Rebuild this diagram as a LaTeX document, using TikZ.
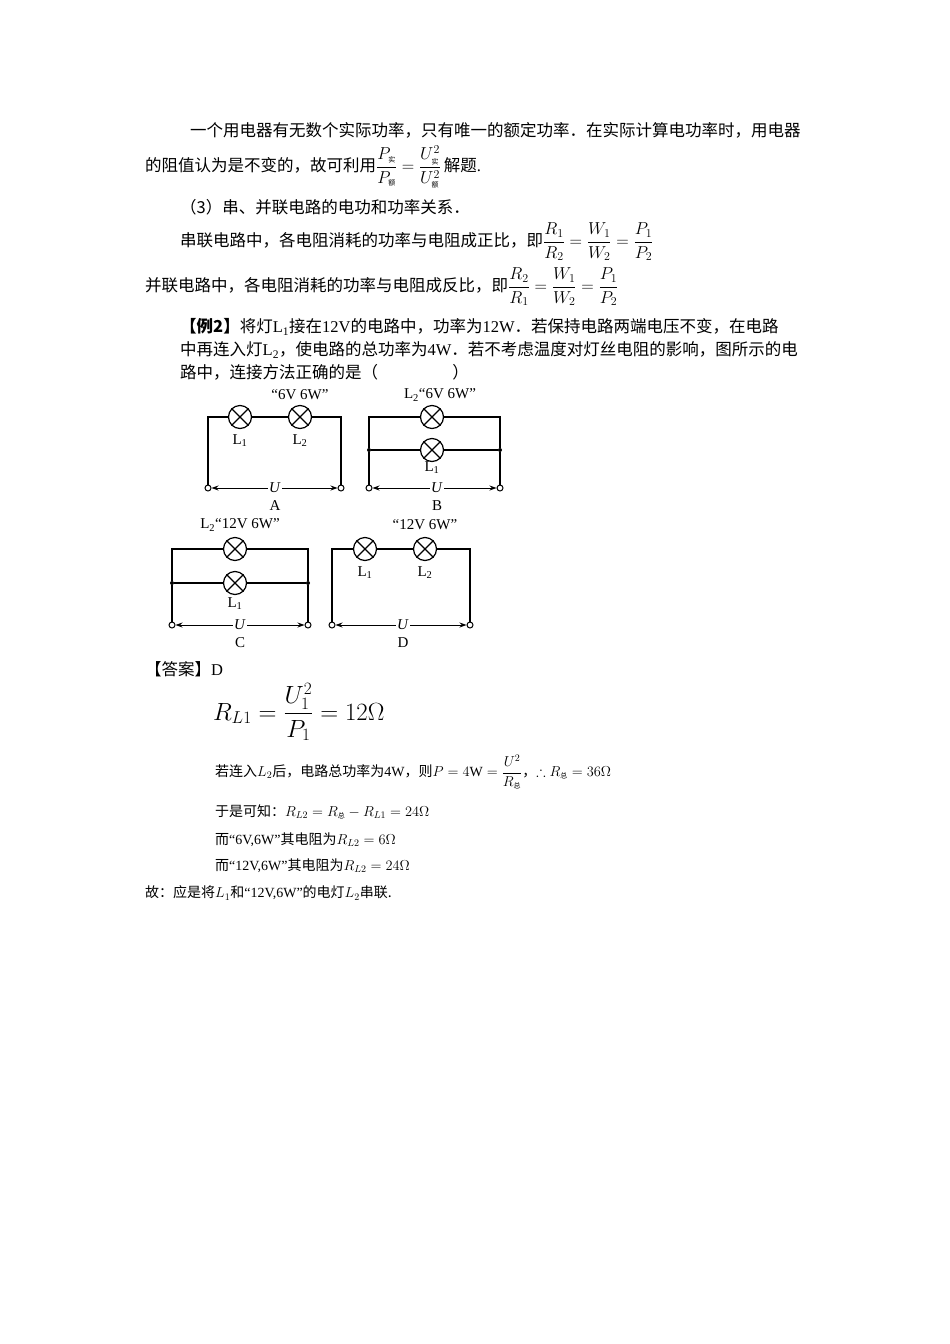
\documentclass[tikz,border=0pt]{standalone}
\usepackage{amsmath,amssymb}
\usepackage{fontspec}
\setmainfont{Liberation Serif}
\newfontfamily\cjk{Noto Sans CJK SC}
\newcommand\zh[1]{{\cjk #1}}
\newcommand\sz[1]{\mbox{\fontsize{7}{8}\selectfont\cjk #1}}
\usetikzlibrary{arrows.meta}
\tikzset{
 lamp/.style={circle,draw,minimum size=23pt,inner sep=0pt,line width=1.2pt},
 wire/.style={line width=1.1pt},
 term/.style={circle,draw,fill=white,minimum size=6pt,inner sep=0pt,line width=1pt},
 dot/.style={circle,fill,minimum size=4pt,inner sep=0pt},
 lab/.style={font=\fontsize{15}{16}\selectfont,inner sep=1pt},
 body/.style={anchor=west,inner sep=0pt,font=\fontsize{16.5}{18}\selectfont},
 small/.style={anchor=west,inner sep=0pt,font=\fontsize{14}{16}\selectfont},
 uarr/.style={line width=1pt,-{Stealth[length=7pt,width=5pt]}}
}
\newcommand\cross[1]{\draw[line width=1.1pt] (#1.north east)--(#1.south west) (#1.north west)--(#1.south east);}
\begin{document}
\begin{tikzpicture}[x=1pt,y=-1pt]
\useasboundingbox[fill=white] (0,0) rectangle (950,1344);
% text
\node[body] (t1) at (190,130) {\zh{一个用电器有无数个实际功率，只有唯一的额定功率．在实际计算电功率时，用电器}};
\node[body] (t2) at (145,167) {\zh{的阻值认为是不变的，故可利用}$\dfrac{P_{\sz{实}}}{P_{\sz{额}}}=\dfrac{U^2_{\sz{实}}}{U^2_{\sz{额}}}$\,\zh{解题}.};
\node[body] (t3) at (180,207) {\zh{（3）串、并联电路的电功和功率关系．}};
\node[body] (t4) at (180,242) {\zh{串联电路中，各电阻消耗的功率与电阻成正比，即}$\dfrac{R_1}{R_2}=\dfrac{W_1}{W_2}=\dfrac{P_1}{P_2}$};
\node[body] (t5) at (145,287) {\zh{并联电路中，各电阻消耗的功率与电阻成反比，即}$\dfrac{R_2}{R_1}=\dfrac{W_1}{W_2}=\dfrac{P_1}{P_2}$};
\node[body] (t6) at (180,327) {\zh{\bfseries【例2】}\zh{将灯}L\textsubscript{1}\zh{接在}12V\zh{的电路中，功率为}12W\zh{．若保持电路两端电压不变，在电路}};
\node[body] (t7) at (180,350) {\zh{中再连入灯}L\textsubscript{2}\zh{，使电路的总功率为}4W\zh{．若不考虑温度对灯丝电阻的影响，图所示的电}};
\node[body] (t8) at (180,372) {\zh{路中，连接方法正确的是（\hspace{4.5em}）}};
% circuit A
\node[lamp] (a1) at (240,417) {}; \cross{a1}
\node[lamp] (a2) at (300,417) {}; \cross{a2}
\node[term] (at1) at (208,488) {}; \node[term] (at2) at (341,488) {};
\coordinate (atl) at (208,417); \coordinate (atr) at (341,417);
\draw[wire] (at1)--(atl)--(a1)--(a2)--(atr)--(at2);
\node[lab] (aU) at (275,488) {\textit{U}};
\draw[uarr] (aU)--(at1); \draw[uarr] (aU)--(at2);
\node[lab] (aL1) at (240,441) {L\textsubscript{1}};
\node[lab] (aL2) at (300,441) {L\textsubscript{2}};
\node[lab] (aq) at (300,395) {“6V 6W”};
\node[lab] (aA) at (275,506) {A};
% circuit B
\node[lamp] (b2) at (432,417) {}; \cross{b2}
\node[lamp] (b1) at (432,450) {}; \cross{b1}
\node[term] (bt1) at (369,488) {}; \node[term] (bt2) at (500,488) {};
\node[dot] (bd1) at (369,450) {}; \node[dot] (bd2) at (500,450) {};
\coordinate (btl) at (369,417); \coordinate (btr) at (500,417);
\draw[wire] (bt1)--(bd1)--(btl)--(b2)--(btr)--(bd2)--(bt2);
\draw[wire] (bd1)--(b1)--(bd2);
\node[lab] (bU) at (437,488) {\textit{U}};
\draw[uarr] (bU)--(bt1); \draw[uarr] (bU)--(bt2);
\node[lab] (bL1) at (432,468) {L\textsubscript{1}};
\node[lab] (bq) at (440,395) {L\textsubscript{2}“6V 6W”};
\node[lab] (bB) at (437,506) {B};
% circuit C
\node[lamp] (c2) at (235,549) {}; \cross{c2}
\node[lamp] (c1) at (235,583) {}; \cross{c1}
\node[term] (ct1) at (172,625) {}; \node[term] (ct2) at (308,625) {};
\node[dot] (cd1) at (172,583) {}; \node[dot] (cd2) at (308,583) {};
\coordinate (ctl) at (172,549); \coordinate (ctr) at (308,549);
\draw[wire] (ct1)--(cd1)--(ctl)--(c2)--(ctr)--(cd2)--(ct2);
\draw[wire] (cd1)--(c1)--(cd2);
\node[lab] (cU) at (240,625) {\textit{U}};
\draw[uarr] (cU)--(ct1); \draw[uarr] (cU)--(ct2);
\node[lab] (cL1) at (235,604) {L\textsubscript{1}};
\node[lab] (cq) at (240,525) {L\textsubscript{2}“12V 6W”};
\node[lab] (cC) at (240,643) {C};
% circuit D
\node[lamp] (d1) at (365,549) {}; \cross{d1}
\node[lamp] (d2) at (425,549) {}; \cross{d2}
\node[term] (dt1) at (332,625) {}; \node[term] (dt2) at (470,625) {};
\coordinate (dtl) at (332,549); \coordinate (dtr) at (470,549);
\draw[wire] (dt1)--(dtl)--(d1)--(d2)--(dtr)--(dt2);
\node[lab] (dU) at (403,625) {\textit{U}};
\draw[uarr] (dU)--(dt1); \draw[uarr] (dU)--(dt2);
\node[lab] (dL1) at (365,573) {L\textsubscript{1}};
\node[lab] (dL2) at (425,573) {L\textsubscript{2}};
\node[lab] (dq) at (425,525) {“12V 6W”};
\node[lab] (dD) at (403,643) {D};
% answer
\node[body] (s0) at (145,669) {\zh{【答案】}D};
\node[anchor=west,inner sep=0pt,font=\fontsize{24}{28}\selectfont] (s1) at (213,712) {$R_{L1}=\dfrac{U_1^2}{P_1}=12\Omega$};
\node[small] (s2) at (215,772) {\zh{若连入}$L_2$\zh{后，电路总功率为}4W\zh{，则}$P=4\mathrm{W}=\dfrac{U^2}{R_{\sz{总}}}$\zh{，}$\therefore R_{\sz{总}}=36\Omega$};
\node[small] (s3) at (215,812) {\zh{于是可知：}$R_{L2}=R_{\sz{总}}-R_{L1}=24\Omega$};
\node[small] (s4) at (215,840) {\zh{而}“6V,6W”\zh{其电阻为}$R_{L2}=6\Omega$};
\node[small] (s5) at (215,866) {\zh{而}“12V,6W”\zh{其电阻为}$R_{L2}=24\Omega$};
\node[small] (s6) at (145,893) {\zh{故：应是将}$L_1$\zh{和}“12V,6W”\zh{的电灯}$L_2$\zh{串联.}};
\end{tikzpicture}
\end{document}
